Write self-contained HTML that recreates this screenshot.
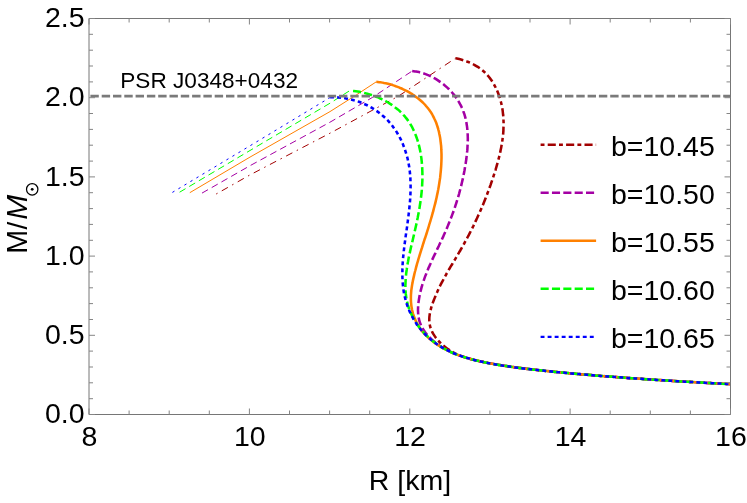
<!DOCTYPE html><html><head><meta charset="utf-8"><style>html,body{margin:0;padding:0;background:#fff}body{width:747px;height:503px;overflow:hidden}</style></head><body><svg width="747" height="503" viewBox="0 0 747 503" style="display:block;will-change:transform;font-family:'Liberation Sans',sans-serif">
<rect width="747" height="503" fill="#fff"/>
<path d="M216.2 194.0 L250.0 174.9 L330.0 133.2 L398.2 96.3 L455.4 58.3" fill="none" stroke="#a20000" stroke-width="1.0" stroke-dasharray="1.5 4.9 7 4.9"/>
<path d="M202.0 193.1 L250.0 165.7 L330.0 122.2 L372.3 97.5 L412.2 71.0" fill="none" stroke="#a400a4" stroke-width="1.0" stroke-dasharray="6.9 4.3"/>
<path d="M189.8 192.7 L250.0 157.1 L330.0 111.6 L356.2 95.0 L376.3 81.8" fill="none" stroke="#ff8000" stroke-width="1.0"/>
<path d="M179.6 192.2 L250.0 150.5 L330.0 103.2 L349.8 90.6" fill="none" stroke="#00ff00" stroke-width="1.0" stroke-dasharray="6.9 4.3"/>
<path d="M172.4 192.4 L250.0 145.8 L330.4 97.3" fill="none" stroke="#0000ff" stroke-width="1.0" stroke-dasharray="2.4 4.6"/>
<path d="M455.4 58.3 C456.1 58.4 458.0 58.8 459.3 59.1 C460.6 59.4 461.9 59.8 463.2 60.2 C464.5 60.6 465.8 61.0 467.0 61.5 C468.3 62.0 469.5 62.5 470.7 63.0 C472.0 63.6 473.2 64.2 474.3 64.8 C475.5 65.5 476.7 66.2 477.8 66.9 C478.9 67.6 480.0 68.4 481.0 69.2 C482.1 70.0 483.1 70.8 484.1 71.7 C485.1 72.6 486.0 73.6 486.9 74.5 C487.8 75.5 488.7 76.5 489.5 77.6 C490.3 78.6 491.1 79.7 491.8 80.8 C492.5 81.9 493.2 83.1 493.9 84.2 C494.6 85.4 495.2 86.6 495.8 87.8 C496.4 89.0 496.9 90.2 497.5 91.5 C498.0 92.7 498.5 94.0 498.9 95.3 C499.3 96.5 499.8 97.8 500.1 99.1 C500.5 100.4 500.9 101.7 501.2 103.0 C501.5 104.3 501.8 105.6 502.0 107.0 C502.3 108.3 502.5 109.6 502.7 110.9 C502.8 112.2 503.0 113.5 503.1 114.8 C503.3 116.1 503.4 117.5 503.4 118.8 C503.5 120.1 503.5 121.4 503.6 122.7 C503.6 124.0 503.6 125.4 503.5 126.7 C503.5 128.0 503.4 129.3 503.4 130.6 C503.3 131.9 503.2 133.3 503.1 134.6 C502.9 135.9 502.8 137.2 502.6 138.5 C502.5 139.8 502.3 141.1 502.1 142.5 C501.9 143.8 501.6 145.1 501.4 146.4 C501.2 147.7 500.9 149.0 500.6 150.3 C500.4 151.6 500.1 152.9 499.8 154.2 C499.5 155.5 499.2 156.8 498.8 158.1 C498.5 159.4 498.1 160.7 497.8 162.0 C497.4 163.3 497.1 164.6 496.7 165.9 C496.3 167.2 495.9 168.5 495.6 169.8 C495.2 171.1 494.8 172.4 494.3 173.6 C493.9 174.9 493.5 176.2 493.1 177.5 C492.7 178.7 492.3 180.0 491.8 181.3 C491.4 182.5 490.9 183.8 490.5 185.1 C490.1 186.3 489.6 187.6 489.1 188.8 C488.7 190.1 488.2 191.3 487.8 192.6 C487.3 193.8 486.8 195.1 486.3 196.3 C485.8 197.6 485.4 198.8 484.9 200.0 C484.4 201.3 483.9 202.5 483.4 203.7 C482.9 205.0 482.3 206.2 481.8 207.4 C481.3 208.6 480.8 209.9 480.2 211.1 C479.7 212.3 479.2 213.5 478.6 214.7 C478.1 215.9 477.5 217.1 477.0 218.3 C476.4 219.5 475.9 220.7 475.3 221.9 C474.7 223.1 474.1 224.3 473.6 225.5 C473.0 226.7 472.4 227.9 471.8 229.1 C471.2 230.3 470.6 231.5 470.0 232.6 C469.4 233.8 468.8 235.0 468.2 236.2 C467.5 237.4 466.9 238.5 466.3 239.7 C465.6 240.9 465.0 242.0 464.4 243.2 C463.7 244.4 463.1 245.5 462.4 246.7 C461.8 247.9 461.1 249.0 460.4 250.2 C459.7 251.3 459.1 252.5 458.4 253.6 C457.7 254.8 457.0 255.9 456.4 257.1 C455.7 258.2 455.0 259.4 454.3 260.5 C453.6 261.7 452.9 262.8 452.3 264.0 C451.6 265.1 450.9 266.3 450.2 267.4 C449.5 268.6 448.9 269.7 448.2 270.9 C447.5 272.1 446.9 273.2 446.2 274.4 C445.6 275.6 444.9 276.7 444.3 277.9 C443.6 279.1 443.0 280.3 442.4 281.4 C441.8 282.6 441.1 283.8 440.5 285.0 C439.9 286.2 439.3 287.4 438.8 288.6 C438.2 289.8 437.6 291.1 437.1 292.3 C436.5 293.5 436.0 294.7 435.5 296.0 C435.0 297.2 434.5 298.5 434.0 299.7 C433.5 301.0 433.0 302.2 432.6 303.5 C432.1 304.8 431.7 306.1 431.3 307.4 C431.0 308.7 430.6 310.0 430.3 311.3 C430.0 312.6 429.8 313.9 429.6 315.2 C429.4 316.5 429.3 317.8 429.3 319.0 C429.3 320.3 429.3 321.6 429.5 322.9 C429.6 324.1 429.9 325.4 430.2 326.6 C430.5 327.9 431.0 329.1 431.5 330.3 C432.0 331.5 432.6 332.7 433.3 333.9 C434.0 335.0 434.7 336.1 435.5 337.2 C436.3 338.3 437.2 339.4 438.1 340.4 C439.0 341.4 439.9 342.4 440.9 343.4 C441.9 344.3 442.9 345.2 443.9 346.1 C445.0 346.9 446.0 347.7 447.1 348.5 C448.2 349.3 449.3 350.0 450.4 350.7 C451.5 351.3 452.7 352.0 453.8 352.6 C455.0 353.2 456.2 353.8 457.4 354.3 C458.6 354.9 459.8 355.4 461.0 355.9 C462.2 356.3 463.5 356.8 464.7 357.2 C466.0 357.7 467.2 358.1 468.5 358.4 C469.8 358.8 471.1 359.2 472.3 359.5 C473.6 359.9 474.9 360.2 476.2 360.5 C477.5 360.8 478.8 361.1 480.2 361.4 C481.5 361.7 482.8 361.9 484.1 362.2 C485.4 362.5 486.7 362.7 488.0 363.0 C489.4 363.2 490.7 363.5 492.0 363.7 C493.3 363.9 494.6 364.2 495.9 364.4 C497.3 364.6 498.6 364.8 499.9 365.0 C501.2 365.3 502.5 365.5 503.8 365.7 C505.2 365.9 506.5 366.1 507.8 366.3 C509.1 366.5 510.4 366.6 511.8 366.8 C513.1 367.0 514.4 367.2 515.7 367.4 C517.0 367.6 518.3 367.7 519.7 367.9 C521.0 368.1 522.3 368.2 523.6 368.4 C524.9 368.6 526.3 368.7 527.6 368.9 C528.9 369.0 530.2 369.2 531.6 369.3 C532.9 369.5 534.2 369.7 535.5 369.8 C536.8 370.0 538.2 370.1 539.5 370.2 C540.8 370.4 542.1 370.5 543.5 370.7 C544.8 370.8 546.1 371.0 547.4 371.1 C548.8 371.2 550.1 371.4 551.4 371.5 C552.7 371.6 554.1 371.8 555.4 371.9 C556.7 372.0 558.0 372.2 559.4 372.3 C560.7 372.4 562.0 372.5 563.4 372.7 C564.7 372.8 566.0 372.9 567.3 373.0 C568.7 373.2 570.0 373.3 571.3 373.4 C572.7 373.5 574.0 373.6 575.3 373.8 C576.6 373.9 578.0 374.0 579.3 374.1 C580.6 374.2 582.0 374.3 583.3 374.5 C584.6 374.6 586.0 374.7 587.3 374.8 C588.6 374.9 589.9 375.0 591.3 375.1 C592.6 375.2 593.9 375.3 595.3 375.4 C596.6 375.5 597.9 375.7 599.3 375.8 C600.6 375.9 601.9 376.0 603.2 376.1 C604.6 376.2 605.9 376.3 607.2 376.4 C608.6 376.5 609.9 376.6 611.2 376.7 C612.6 376.8 613.9 376.9 615.2 377.0 C616.5 377.1 617.9 377.2 619.2 377.3 C620.5 377.4 621.9 377.5 623.2 377.6 C624.5 377.7 625.9 377.8 627.2 377.9 C628.5 378.0 629.8 378.1 631.2 378.2 C632.5 378.2 633.8 378.3 635.2 378.4 C636.5 378.5 637.8 378.6 639.2 378.7 C640.5 378.8 641.8 378.9 643.1 379.0 C644.5 379.1 645.8 379.2 647.1 379.3 C648.5 379.3 649.8 379.4 651.1 379.5 C652.5 379.6 653.8 379.7 655.1 379.8 C656.4 379.9 657.8 380.0 659.1 380.0 C660.4 380.1 661.8 380.2 663.1 380.3 C664.4 380.4 665.8 380.5 667.1 380.5 C668.4 380.6 669.7 380.7 671.1 380.8 C672.4 380.9 673.7 381.0 675.1 381.0 C676.4 381.1 677.7 381.2 679.1 381.3 C680.4 381.4 681.7 381.4 683.0 381.5 C684.4 381.6 685.7 381.7 687.0 381.8 C688.4 381.8 689.7 381.9 691.0 382.0 C692.4 382.1 693.7 382.1 695.0 382.2 C696.4 382.3 697.7 382.4 699.0 382.4 C700.3 382.5 701.7 382.6 703.0 382.7 C704.3 382.7 705.7 382.8 707.0 382.9 C708.3 382.9 709.7 383.0 711.0 383.1 C712.3 383.2 713.7 383.2 715.0 383.3 C716.3 383.4 717.7 383.4 719.0 383.5 C720.3 383.6 721.7 383.7 723.0 383.7 C724.3 383.8 725.8 383.9 727.0 383.9 C728.2 384.0 729.7 384.1 730.2 384.1" fill="none" stroke="#a20000" stroke-width="2.55" stroke-dasharray="3.9 3.2 8.1 3.2" stroke-dashoffset="7.1"/>
<path d="M412.2 71.0 C412.8 71.1 414.8 71.3 416.1 71.5 C417.4 71.8 418.7 72.0 420.0 72.4 C421.2 72.7 422.5 73.1 423.8 73.5 C425.0 73.9 426.3 74.4 427.5 74.9 C428.8 75.4 430.0 75.9 431.2 76.5 C432.4 77.1 433.6 77.8 434.8 78.4 C436.0 79.1 437.1 79.8 438.3 80.6 C439.4 81.3 440.5 82.1 441.6 82.9 C442.7 83.7 443.8 84.6 444.8 85.4 C445.9 86.3 446.9 87.2 447.9 88.2 C448.9 89.1 449.8 90.1 450.7 91.1 C451.7 92.1 452.6 93.1 453.4 94.1 C454.3 95.2 455.1 96.2 455.9 97.3 C456.7 98.4 457.4 99.5 458.1 100.6 C458.8 101.8 459.5 102.9 460.1 104.1 C460.7 105.2 461.3 106.4 461.8 107.6 C462.4 108.8 462.9 110.0 463.3 111.2 C463.8 112.4 464.2 113.7 464.6 114.9 C464.9 116.1 465.3 117.4 465.6 118.7 C465.9 119.9 466.1 121.2 466.4 122.5 C466.6 123.8 466.8 125.1 467.0 126.4 C467.2 127.7 467.3 129.0 467.4 130.3 C467.5 131.6 467.6 133.0 467.7 134.3 C467.7 135.6 467.8 136.9 467.8 138.3 C467.8 139.6 467.8 141.0 467.7 142.3 C467.7 143.7 467.6 145.0 467.5 146.4 C467.5 147.7 467.4 149.1 467.3 150.4 C467.1 151.8 467.0 153.1 466.8 154.5 C466.7 155.8 466.5 157.1 466.4 158.5 C466.2 159.8 466.0 161.2 465.8 162.5 C465.6 163.9 465.4 165.2 465.1 166.5 C464.9 167.8 464.7 169.2 464.5 170.5 C464.2 171.8 464.0 173.1 463.7 174.4 C463.4 175.7 463.2 177.1 462.9 178.4 C462.6 179.7 462.3 181.0 462.0 182.2 C461.7 183.5 461.4 184.8 461.1 186.1 C460.8 187.4 460.4 188.7 460.1 190.0 C459.8 191.3 459.4 192.5 459.1 193.8 C458.7 195.1 458.3 196.3 458.0 197.6 C457.6 198.9 457.2 200.1 456.8 201.4 C456.4 202.7 456.0 203.9 455.6 205.2 C455.2 206.4 454.8 207.7 454.3 208.9 C453.9 210.2 453.5 211.4 453.0 212.7 C452.6 213.9 452.1 215.2 451.6 216.4 C451.2 217.6 450.7 218.9 450.2 220.1 C449.7 221.3 449.2 222.6 448.7 223.8 C448.2 225.0 447.7 226.3 447.2 227.5 C446.7 228.7 446.2 229.9 445.6 231.2 C445.1 232.4 444.6 233.6 444.0 234.8 C443.4 236.1 442.9 237.3 442.3 238.5 C441.8 239.7 441.2 240.9 440.6 242.1 C440.0 243.4 439.4 244.6 438.9 245.8 C438.3 247.0 437.7 248.2 437.1 249.4 C436.5 250.7 435.9 251.9 435.4 253.1 C434.8 254.3 434.2 255.5 433.6 256.8 C433.1 258.0 432.5 259.2 431.9 260.4 C431.4 261.7 430.8 262.9 430.3 264.1 C429.7 265.4 429.2 266.6 428.6 267.8 C428.1 269.1 427.6 270.3 427.1 271.5 C426.6 272.8 426.1 274.0 425.6 275.3 C425.1 276.5 424.7 277.8 424.2 279.1 C423.8 280.3 423.4 281.6 422.9 282.9 C422.5 284.1 422.1 285.4 421.8 286.7 C421.4 288.0 421.1 289.3 420.7 290.6 C420.4 291.9 420.1 293.2 419.8 294.5 C419.6 295.8 419.3 297.1 419.1 298.4 C418.9 299.8 418.7 301.1 418.5 302.4 C418.4 303.8 418.2 305.1 418.1 306.4 C418.1 307.8 418.0 309.1 418.0 310.4 C418.1 311.7 418.1 313.0 418.2 314.3 C418.4 315.6 418.5 316.9 418.8 318.2 C419.0 319.5 419.3 320.7 419.7 321.9 C420.1 323.2 420.6 324.4 421.1 325.5 C421.6 326.7 422.2 327.9 422.9 329.0 C423.6 330.1 424.3 331.2 425.1 332.2 C425.9 333.3 426.7 334.3 427.6 335.3 C428.5 336.3 429.4 337.3 430.4 338.2 C431.4 339.2 432.4 340.1 433.4 340.9 C434.4 341.8 435.4 342.6 436.5 343.4 C437.6 344.2 438.6 345.0 439.7 345.8 C440.8 346.5 441.9 347.2 443.1 347.9 C444.2 348.6 445.4 349.2 446.5 349.8 C447.7 350.4 448.9 351.0 450.0 351.6 C451.2 352.2 452.4 352.7 453.6 353.2 C454.9 353.8 456.1 354.3 457.3 354.7 C458.6 355.2 459.8 355.7 461.1 356.1 C462.3 356.5 463.6 356.9 464.9 357.3 C466.1 357.7 467.4 358.1 468.7 358.5 C470.0 358.9 471.3 359.2 472.6 359.5 C473.9 359.9 475.2 360.2 476.5 360.5 C477.8 360.8 479.1 361.1 480.4 361.4 C481.7 361.7 483.1 361.9 484.4 362.2 C485.7 362.5 487.0 362.7 488.3 363.0 C489.6 363.3 490.9 363.5 492.3 363.7 C493.6 364.0 494.9 364.2 496.2 364.4 C497.5 364.7 498.8 364.9 500.2 365.1 C501.5 365.3 502.8 365.5 504.1 365.7 C505.4 365.9 506.7 366.1 508.0 366.3 C509.4 366.5 510.7 366.7 512.0 366.9 C513.3 367.1 514.6 367.3 515.9 367.4 C517.3 367.6 518.6 367.8 519.9 367.9 C521.2 368.1 522.5 368.3 523.9 368.4 C525.2 368.6 526.5 368.8 527.8 368.9 C529.1 369.1 530.5 369.2 531.8 369.4 C533.1 369.5 534.4 369.7 535.7 369.8 C537.1 370.0 538.4 370.1 539.7 370.3 C541.0 370.4 542.4 370.6 543.7 370.7 C545.0 370.8 546.3 371.0 547.7 371.1 C549.0 371.2 550.3 371.4 551.6 371.5 C553.0 371.7 554.3 371.8 555.6 371.9 C556.9 372.0 558.3 372.2 559.6 372.3 C560.9 372.4 562.3 372.6 563.6 372.7 C564.9 372.8 566.2 372.9 567.6 373.1 C568.9 373.2 570.2 373.3 571.6 373.4 C572.9 373.5 574.2 373.7 575.5 373.8 C576.9 373.9 578.2 374.0 579.5 374.1 C580.9 374.2 582.2 374.4 583.5 374.5 C584.9 374.6 586.2 374.7 587.5 374.8 C588.9 374.9 590.2 375.0 591.5 375.1 C592.8 375.2 594.2 375.4 595.5 375.5 C596.8 375.6 598.2 375.7 599.5 375.8 C600.8 375.9 602.2 376.0 603.5 376.1 C604.8 376.2 606.1 376.3 607.5 376.4 C608.8 376.5 610.1 376.6 611.5 376.7 C612.8 376.8 614.1 376.9 615.5 377.0 C616.8 377.1 618.1 377.2 619.4 377.3 C620.8 377.4 622.1 377.5 623.4 377.6 C624.8 377.7 626.1 377.8 627.4 377.9 C628.8 378.0 630.1 378.1 631.4 378.2 C632.7 378.3 634.1 378.4 635.4 378.5 C636.7 378.5 638.1 378.6 639.4 378.7 C640.7 378.8 642.1 378.9 643.4 379.0 C644.7 379.1 646.0 379.2 647.4 379.3 C648.7 379.4 650.0 379.5 651.4 379.5 C652.7 379.6 654.0 379.7 655.3 379.8 C656.7 379.9 658.0 380.0 659.3 380.1 C660.7 380.1 662.0 380.2 663.3 380.3 C664.7 380.4 666.0 380.5 667.3 380.6 C668.6 380.6 670.0 380.7 671.3 380.8 C672.6 380.9 674.0 381.0 675.3 381.1 C676.6 381.1 678.0 381.2 679.3 381.3 C680.6 381.4 681.9 381.4 683.3 381.5 C684.6 381.6 685.9 381.7 687.3 381.8 C688.6 381.8 689.9 381.9 691.3 382.0 C692.6 382.1 693.9 382.1 695.3 382.2 C696.6 382.3 697.9 382.4 699.2 382.4 C700.6 382.5 701.9 382.6 703.2 382.7 C704.6 382.7 705.9 382.8 707.2 382.9 C708.6 383.0 709.9 383.0 711.2 383.1 C712.6 383.2 713.9 383.2 715.2 383.3 C716.6 383.4 717.9 383.5 719.2 383.5 C720.6 383.6 721.9 383.7 723.2 383.7 C724.6 383.8 726.1 383.9 727.2 383.9 C728.4 384.0 729.7 384.1 730.2 384.1" fill="none" stroke="#a400a4" stroke-width="2.55" stroke-dasharray="8.1 3.25" stroke-dashoffset="0"/>
<path d="M376.3 81.8 C376.9 81.9 378.9 82.1 380.2 82.3 C381.5 82.5 382.8 82.7 384.1 83.0 C385.4 83.2 386.7 83.5 388.0 83.8 C389.3 84.2 390.6 84.5 391.9 84.9 C393.2 85.3 394.5 85.7 395.8 86.2 C397.1 86.6 398.3 87.1 399.6 87.7 C400.9 88.2 402.1 88.7 403.3 89.3 C404.6 89.9 405.8 90.5 407.0 91.1 C408.2 91.8 409.4 92.4 410.5 93.1 C411.7 93.8 412.8 94.6 413.9 95.3 C415.1 96.1 416.1 96.9 417.2 97.7 C418.3 98.5 419.3 99.3 420.3 100.2 C421.3 101.1 422.3 102.0 423.2 102.9 C424.2 103.8 425.1 104.8 425.9 105.8 C426.8 106.7 427.6 107.7 428.4 108.8 C429.2 109.8 430.0 110.9 430.7 111.9 C431.4 113.0 432.1 114.1 432.7 115.3 C433.3 116.4 433.9 117.6 434.4 118.7 C435.0 119.9 435.5 121.1 436.0 122.3 C436.5 123.5 436.9 124.8 437.3 126.0 C437.7 127.2 438.1 128.5 438.4 129.8 C438.8 131.1 439.1 132.4 439.3 133.7 C439.6 135.0 439.9 136.3 440.1 137.6 C440.3 138.9 440.5 140.3 440.6 141.6 C440.8 142.9 440.9 144.3 441.1 145.6 C441.2 147.0 441.3 148.3 441.3 149.7 C441.4 151.0 441.4 152.4 441.5 153.8 C441.5 155.1 441.5 156.5 441.5 157.8 C441.5 159.2 441.4 160.5 441.4 161.9 C441.3 163.2 441.3 164.6 441.2 165.9 C441.1 167.3 441.0 168.6 440.9 169.9 C440.8 171.3 440.7 172.6 440.5 173.9 C440.4 175.2 440.2 176.6 440.1 177.9 C439.9 179.2 439.7 180.5 439.5 181.8 C439.3 183.2 439.1 184.5 438.9 185.8 C438.7 187.1 438.4 188.4 438.2 189.7 C437.9 191.0 437.7 192.3 437.4 193.6 C437.1 194.9 436.9 196.2 436.6 197.5 C436.3 198.8 436.0 200.1 435.7 201.4 C435.4 202.7 435.1 204.0 434.7 205.3 C434.4 206.5 434.1 207.8 433.7 209.1 C433.4 210.4 433.1 211.7 432.7 213.0 C432.3 214.2 432.0 215.5 431.6 216.8 C431.2 218.1 430.9 219.4 430.5 220.6 C430.1 221.9 429.7 223.2 429.3 224.5 C429.0 225.7 428.6 227.0 428.2 228.3 C427.8 229.6 427.4 230.8 427.0 232.1 C426.6 233.4 426.2 234.6 425.8 235.9 C425.4 237.2 424.9 238.5 424.5 239.7 C424.1 241.0 423.7 242.3 423.3 243.5 C422.9 244.8 422.5 246.1 422.1 247.4 C421.7 248.6 421.3 249.9 420.9 251.2 C420.5 252.5 420.1 253.8 419.7 255.0 C419.3 256.3 418.9 257.6 418.5 258.9 C418.1 260.2 417.8 261.5 417.4 262.7 C417.0 264.0 416.7 265.3 416.3 266.6 C416.0 267.9 415.6 269.2 415.3 270.5 C414.9 271.8 414.6 273.1 414.3 274.4 C414.0 275.8 413.7 277.1 413.4 278.4 C413.1 279.7 412.8 281.0 412.6 282.4 C412.3 283.7 412.1 285.0 411.9 286.3 C411.7 287.7 411.5 289.0 411.3 290.3 C411.2 291.6 411.1 293.0 411.0 294.3 C410.9 295.6 410.9 296.9 410.9 298.3 C410.9 299.6 410.9 300.9 411.0 302.2 C411.1 303.5 411.3 304.8 411.4 306.1 C411.6 307.4 411.9 308.7 412.1 310.0 C412.4 311.3 412.7 312.5 413.1 313.8 C413.5 315.0 413.9 316.3 414.4 317.5 C414.8 318.7 415.3 319.9 415.9 321.1 C416.4 322.3 417.0 323.4 417.7 324.6 C418.3 325.7 419.0 326.8 419.7 327.9 C420.5 329.0 421.2 330.0 422.1 331.1 C422.9 332.1 423.8 333.1 424.7 334.1 C425.6 335.1 426.5 336.0 427.5 336.9 C428.5 337.8 429.5 338.7 430.5 339.6 C431.5 340.5 432.6 341.3 433.7 342.1 C434.8 342.9 435.9 343.7 437.0 344.4 C438.1 345.2 439.3 345.9 440.4 346.6 C441.6 347.3 442.7 348.0 443.9 348.6 C445.1 349.2 446.3 349.8 447.5 350.4 C448.7 351.0 449.9 351.6 451.1 352.1 C452.3 352.7 453.5 353.2 454.8 353.7 C456.0 354.2 457.2 354.7 458.5 355.1 C459.7 355.6 461.0 356.0 462.3 356.5 C463.5 356.9 464.8 357.3 466.1 357.7 C467.3 358.1 468.6 358.4 469.9 358.8 C471.2 359.1 472.5 359.5 473.8 359.8 C475.1 360.1 476.4 360.5 477.7 360.8 C479.0 361.1 480.3 361.4 481.6 361.6 C482.9 361.9 484.2 362.2 485.5 362.5 C486.8 362.7 488.1 363.0 489.4 363.2 C490.8 363.5 492.1 363.7 493.4 364.0 C494.7 364.2 496.0 364.4 497.3 364.7 C498.6 364.9 500.0 365.1 501.3 365.3 C502.6 365.5 503.9 365.7 505.2 365.9 C506.5 366.1 507.9 366.3 509.2 366.5 C510.5 366.7 511.8 366.9 513.1 367.1 C514.4 367.2 515.8 367.4 517.1 367.6 C518.4 367.8 519.7 367.9 521.1 368.1 C522.4 368.3 523.7 368.4 525.0 368.6 C526.3 368.7 527.7 368.9 529.0 369.1 C530.3 369.2 531.6 369.4 533.0 369.5 C534.3 369.7 535.6 369.8 536.9 370.0 C538.3 370.1 539.6 370.2 540.9 370.4 C542.2 370.5 543.6 370.7 544.9 370.8 C546.2 370.9 547.5 371.1 548.9 371.2 C550.2 371.4 551.5 371.5 552.8 371.6 C554.2 371.8 555.5 371.9 556.8 372.0 C558.2 372.1 559.5 372.3 560.8 372.4 C562.1 372.5 563.5 372.7 564.8 372.8 C566.1 372.9 567.4 373.0 568.8 373.2 C570.1 373.3 571.4 373.4 572.8 373.5 C574.1 373.6 575.4 373.8 576.7 373.9 C578.1 374.0 579.4 374.1 580.7 374.2 C582.1 374.3 583.4 374.5 584.7 374.6 C586.0 374.7 587.4 374.8 588.7 374.9 C590.0 375.0 591.4 375.1 592.7 375.2 C594.0 375.3 595.4 375.4 596.7 375.6 C598.0 375.7 599.3 375.8 600.7 375.9 C602.0 376.0 603.3 376.1 604.7 376.2 C606.0 376.3 607.3 376.4 608.6 376.5 C610.0 376.6 611.3 376.7 612.6 376.8 C614.0 376.9 615.3 377.0 616.6 377.1 C618.0 377.2 619.3 377.3 620.6 377.4 C621.9 377.5 623.3 377.6 624.6 377.7 C625.9 377.8 627.3 377.9 628.6 378.0 C629.9 378.1 631.3 378.2 632.6 378.3 C633.9 378.4 635.2 378.5 636.6 378.5 C637.9 378.6 639.2 378.7 640.6 378.8 C641.9 378.9 643.2 379.0 644.6 379.1 C645.9 379.2 647.2 379.3 648.5 379.4 C649.9 379.4 651.2 379.5 652.5 379.6 C653.9 379.7 655.2 379.8 656.5 379.9 C657.9 380.0 659.2 380.0 660.5 380.1 C661.8 380.2 663.2 380.3 664.5 380.4 C665.8 380.5 667.2 380.6 668.5 380.6 C669.8 380.7 671.2 380.8 672.5 380.9 C673.8 381.0 675.2 381.0 676.5 381.1 C677.8 381.2 679.1 381.3 680.5 381.4 C681.8 381.4 683.1 381.5 684.5 381.6 C685.8 381.7 687.1 381.7 688.5 381.8 C689.8 381.9 691.1 382.0 692.5 382.1 C693.8 382.1 695.1 382.2 696.4 382.3 C697.8 382.4 699.1 382.4 700.4 382.5 C701.8 382.6 703.1 382.7 704.4 382.7 C705.8 382.8 707.1 382.9 708.4 382.9 C709.8 383.0 711.1 383.1 712.4 383.2 C713.8 383.2 715.1 383.3 716.4 383.4 C717.8 383.4 719.1 383.5 720.4 383.6 C721.7 383.7 723.1 383.7 724.4 383.8 C725.7 383.9 727.4 383.9 728.4 384.0 C729.4 384.0 729.9 384.1 730.2 384.1" fill="none" stroke="#ff8000" stroke-width="2.55"/>
<path d="M349.8 90.6 C350.5 90.7 352.4 90.8 353.8 91.0 C355.1 91.2 356.4 91.4 357.7 91.6 C359.1 91.8 360.4 92.0 361.7 92.3 C363.0 92.6 364.3 92.9 365.7 93.3 C367.0 93.6 368.3 94.0 369.6 94.4 C370.9 94.8 372.1 95.2 373.4 95.6 C374.7 96.1 376.0 96.6 377.2 97.1 C378.5 97.6 379.7 98.2 380.9 98.7 C382.1 99.3 383.4 99.9 384.5 100.5 C385.7 101.2 386.9 101.8 388.1 102.5 C389.2 103.2 390.3 103.9 391.4 104.6 C392.5 105.4 393.6 106.2 394.7 107.0 C395.7 107.8 396.8 108.6 397.8 109.4 C398.8 110.3 399.8 111.2 400.7 112.1 C401.6 113.0 402.6 113.9 403.4 114.9 C404.3 115.8 405.2 116.8 406.0 117.9 C406.8 118.9 407.6 119.9 408.3 121.0 C409.1 122.1 409.8 123.2 410.4 124.3 C411.1 125.4 411.8 126.6 412.4 127.7 C413.0 128.9 413.5 130.1 414.1 131.3 C414.6 132.5 415.1 133.7 415.6 134.9 C416.1 136.2 416.6 137.4 417.0 138.7 C417.4 139.9 417.8 141.2 418.2 142.5 C418.5 143.8 418.9 145.1 419.2 146.4 C419.5 147.7 419.8 149.0 420.1 150.4 C420.3 151.7 420.6 153.0 420.8 154.3 C421.0 155.7 421.2 157.0 421.4 158.3 C421.5 159.7 421.7 161.0 421.8 162.3 C421.9 163.6 422.0 165.0 422.1 166.3 C422.2 167.6 422.3 169.0 422.3 170.3 C422.4 171.6 422.4 172.9 422.4 174.3 C422.4 175.6 422.4 176.9 422.4 178.2 C422.4 179.6 422.4 180.9 422.3 182.2 C422.2 183.5 422.2 184.9 422.1 186.2 C422.0 187.5 421.9 188.8 421.8 190.2 C421.7 191.5 421.6 192.8 421.4 194.1 C421.3 195.4 421.1 196.8 420.9 198.1 C420.8 199.4 420.6 200.7 420.4 202.0 C420.2 203.4 420.0 204.7 419.8 206.0 C419.6 207.3 419.4 208.6 419.2 209.9 C418.9 211.3 418.7 212.6 418.4 213.9 C418.2 215.2 417.9 216.5 417.7 217.8 C417.4 219.1 417.1 220.5 416.9 221.8 C416.6 223.1 416.3 224.4 416.0 225.7 C415.7 227.0 415.4 228.3 415.1 229.7 C414.8 231.0 414.5 232.3 414.2 233.6 C413.9 234.9 413.6 236.2 413.3 237.5 C413.0 238.8 412.7 240.2 412.4 241.5 C412.1 242.8 411.8 244.1 411.5 245.4 C411.1 246.7 410.8 248.0 410.5 249.4 C410.2 250.7 410.0 252.0 409.7 253.3 C409.4 254.6 409.1 255.9 408.8 257.3 C408.6 258.6 408.3 259.9 408.1 261.2 C407.8 262.5 407.6 263.9 407.4 265.2 C407.2 266.5 406.9 267.8 406.8 269.2 C406.6 270.5 406.4 271.8 406.2 273.2 C406.1 274.5 406.0 275.8 405.8 277.2 C405.7 278.5 405.6 279.8 405.6 281.2 C405.5 282.5 405.5 283.9 405.4 285.2 C405.4 286.5 405.4 287.9 405.5 289.2 C405.5 290.5 405.6 291.8 405.7 293.2 C405.9 294.5 406.0 295.8 406.2 297.1 C406.4 298.4 406.6 299.7 406.9 301.0 C407.2 302.3 407.5 303.5 407.8 304.8 C408.2 306.1 408.6 307.3 409.0 308.5 C409.5 309.8 410.0 311.0 410.5 312.2 C411.0 313.4 411.5 314.6 412.1 315.8 C412.7 317.0 413.3 318.1 414.0 319.3 C414.6 320.4 415.3 321.5 416.1 322.6 C416.8 323.8 417.5 324.8 418.3 325.9 C419.1 327.0 419.9 328.0 420.7 329.1 C421.6 330.1 422.4 331.1 423.3 332.1 C424.2 333.1 425.1 334.1 426.1 335.0 C427.0 335.9 428.0 336.9 429.0 337.8 C430.0 338.7 431.0 339.5 432.0 340.4 C433.0 341.2 434.1 342.0 435.2 342.8 C436.2 343.6 437.3 344.4 438.4 345.1 C439.5 345.9 440.6 346.6 441.8 347.3 C442.9 347.9 444.1 348.6 445.2 349.2 C446.4 349.9 447.6 350.5 448.8 351.0 C449.9 351.6 451.1 352.2 452.4 352.7 C453.6 353.2 454.8 353.7 456.0 354.2 C457.3 354.7 458.5 355.2 459.8 355.6 C461.0 356.1 462.3 356.5 463.5 356.9 C464.8 357.3 466.1 357.7 467.4 358.1 C468.6 358.5 469.9 358.8 471.2 359.2 C472.5 359.5 473.8 359.8 475.1 360.2 C476.4 360.5 477.7 360.8 479.0 361.1 C480.3 361.4 481.7 361.7 483.0 361.9 C484.3 362.2 485.6 362.5 486.9 362.7 C488.2 363.0 489.5 363.2 490.9 363.5 C492.2 363.7 493.5 364.0 494.8 364.2 C496.1 364.4 497.4 364.7 498.7 364.9 C500.1 365.1 501.4 365.3 502.7 365.5 C504.0 365.7 505.3 365.9 506.6 366.1 C508.0 366.3 509.3 366.5 510.6 366.7 C511.9 366.9 513.2 367.1 514.5 367.2 C515.9 367.4 517.2 367.6 518.5 367.8 C519.8 367.9 521.1 368.1 522.5 368.3 C523.8 368.4 525.1 368.6 526.4 368.7 C527.7 368.9 529.1 369.1 530.4 369.2 C531.7 369.4 533.0 369.5 534.3 369.7 C535.7 369.8 537.0 370.0 538.3 370.1 C539.6 370.2 541.0 370.4 542.3 370.5 C543.6 370.7 544.9 370.8 546.3 371.0 C547.6 371.1 548.9 371.2 550.2 371.4 C551.6 371.5 552.9 371.6 554.2 371.8 C555.6 371.9 556.9 372.0 558.2 372.2 C559.5 372.3 560.9 372.4 562.2 372.5 C563.5 372.7 564.8 372.8 566.2 372.9 C567.5 373.0 568.8 373.2 570.2 373.3 C571.5 373.4 572.8 373.5 574.1 373.6 C575.5 373.8 576.8 373.9 578.1 374.0 C579.5 374.1 580.8 374.2 582.1 374.3 C583.5 374.5 584.8 374.6 586.1 374.7 C587.4 374.8 588.8 374.9 590.1 375.0 C591.4 375.1 592.8 375.2 594.1 375.3 C595.4 375.5 596.8 375.6 598.1 375.7 C599.4 375.8 600.7 375.9 602.1 376.0 C603.4 376.1 604.7 376.2 606.1 376.3 C607.4 376.4 608.7 376.5 610.1 376.6 C611.4 376.7 612.7 376.8 614.0 376.9 C615.4 377.0 616.7 377.1 618.0 377.2 C619.4 377.3 620.7 377.4 622.0 377.5 C623.4 377.6 624.7 377.7 626.0 377.8 C627.3 377.9 628.7 378.0 630.0 378.1 C631.3 378.2 632.7 378.3 634.0 378.4 C635.3 378.5 636.6 378.5 638.0 378.6 C639.3 378.7 640.6 378.8 642.0 378.9 C643.3 379.0 644.6 379.1 646.0 379.2 C647.3 379.3 648.6 379.4 649.9 379.4 C651.3 379.5 652.6 379.6 653.9 379.7 C655.3 379.8 656.6 379.9 657.9 380.0 C659.3 380.1 660.6 380.1 661.9 380.2 C663.2 380.3 664.6 380.4 665.9 380.5 C667.2 380.6 668.6 380.6 669.9 380.7 C671.2 380.8 672.6 380.9 673.9 381.0 C675.2 381.0 676.5 381.1 677.9 381.2 C679.2 381.3 680.5 381.4 681.9 381.4 C683.2 381.5 684.5 381.6 685.9 381.7 C687.2 381.8 688.5 381.8 689.9 381.9 C691.2 382.0 692.5 382.1 693.8 382.1 C695.2 382.2 696.5 382.3 697.8 382.4 C699.2 382.4 700.5 382.5 701.8 382.6 C703.2 382.7 704.5 382.7 705.8 382.8 C707.2 382.9 708.5 382.9 709.8 383.0 C711.2 383.1 712.5 383.2 713.8 383.2 C715.2 383.3 716.5 383.4 717.8 383.4 C719.1 383.5 720.5 383.6 721.8 383.7 C723.1 383.7 724.5 383.8 725.8 383.9 C727.1 383.9 729.1 384.0 729.8 384.1 C730.5 384.1 730.1 384.1 730.2 384.1" fill="none" stroke="#00ff00" stroke-width="2.55" stroke-dasharray="8.1 3.25" stroke-dashoffset="8.1"/>
<path d="M330.1 97.2 C330.8 97.2 332.8 97.1 334.1 97.2 C335.5 97.2 336.8 97.3 338.2 97.4 C339.5 97.4 340.9 97.6 342.2 97.8 C343.5 97.9 344.9 98.1 346.2 98.4 C347.5 98.6 348.8 98.9 350.1 99.2 C351.4 99.5 352.8 99.8 354.0 100.2 C355.3 100.6 356.6 101.0 357.9 101.4 C359.2 101.9 360.4 102.3 361.7 102.9 C362.9 103.4 364.1 103.9 365.4 104.5 C366.6 105.0 367.8 105.6 369.0 106.3 C370.1 106.9 371.3 107.5 372.4 108.2 C373.6 108.9 374.7 109.6 375.8 110.4 C376.9 111.1 378.0 111.9 379.1 112.7 C380.1 113.5 381.2 114.3 382.2 115.2 C383.2 116.0 384.2 116.9 385.1 117.8 C386.1 118.7 387.0 119.7 387.9 120.6 C388.8 121.6 389.7 122.6 390.6 123.6 C391.4 124.6 392.2 125.6 393.0 126.7 C393.8 127.8 394.6 128.8 395.3 129.9 C396.0 131.0 396.7 132.1 397.4 133.3 C398.1 134.4 398.7 135.6 399.4 136.7 C400.0 137.9 400.6 139.1 401.2 140.3 C401.7 141.5 402.3 142.7 402.8 143.9 C403.3 145.2 403.8 146.4 404.2 147.6 C404.7 148.9 405.1 150.1 405.5 151.4 C405.9 152.7 406.3 153.9 406.7 155.2 C407.0 156.5 407.4 157.8 407.7 159.1 C408.0 160.4 408.2 161.7 408.5 163.0 C408.7 164.3 409.0 165.5 409.2 166.9 C409.4 168.2 409.5 169.5 409.7 170.8 C409.9 172.1 410.0 173.4 410.1 174.7 C410.2 176.0 410.3 177.3 410.4 178.6 C410.4 179.9 410.5 181.2 410.5 182.6 C410.6 183.9 410.6 185.2 410.6 186.5 C410.6 187.8 410.6 189.2 410.5 190.5 C410.5 191.8 410.5 193.1 410.4 194.5 C410.3 195.8 410.3 197.1 410.2 198.5 C410.1 199.8 410.0 201.1 409.9 202.5 C409.8 203.8 409.6 205.1 409.5 206.5 C409.4 207.8 409.2 209.2 409.1 210.5 C409.0 211.8 408.8 213.2 408.6 214.5 C408.5 215.9 408.3 217.2 408.1 218.5 C408.0 219.9 407.8 221.2 407.6 222.6 C407.4 223.9 407.2 225.3 407.1 226.6 C406.9 228.0 406.7 229.3 406.5 230.7 C406.3 232.0 406.1 233.4 405.9 234.7 C405.7 236.1 405.5 237.4 405.4 238.8 C405.2 240.1 405.0 241.5 404.8 242.8 C404.6 244.2 404.5 245.5 404.3 246.9 C404.1 248.2 404.0 249.6 403.8 250.9 C403.7 252.3 403.5 253.6 403.4 255.0 C403.2 256.3 403.1 257.6 403.0 259.0 C402.9 260.3 402.8 261.7 402.7 263.0 C402.6 264.3 402.5 265.7 402.5 267.0 C402.4 268.4 402.4 269.7 402.4 271.0 C402.4 272.3 402.3 273.7 402.4 275.0 C402.4 276.3 402.4 277.6 402.5 278.9 C402.5 280.3 402.6 281.6 402.7 282.9 C402.8 284.2 402.9 285.5 403.1 286.8 C403.2 288.1 403.4 289.4 403.6 290.7 C403.8 292.0 404.0 293.3 404.3 294.5 C404.6 295.8 404.8 297.1 405.2 298.4 C405.5 299.6 405.8 300.9 406.2 302.2 C406.6 303.4 407.0 304.7 407.4 305.9 C407.9 307.2 408.4 308.4 408.9 309.6 C409.4 310.9 409.9 312.1 410.5 313.3 C411.0 314.5 411.6 315.7 412.3 316.8 C412.9 318.0 413.5 319.2 414.2 320.3 C414.9 321.4 415.6 322.6 416.4 323.7 C417.1 324.8 417.9 325.9 418.7 326.9 C419.5 328.0 420.3 329.0 421.2 330.0 C422.1 331.1 422.9 332.1 423.9 333.0 C424.8 334.0 425.7 334.9 426.7 335.9 C427.6 336.8 428.6 337.7 429.6 338.6 C430.6 339.4 431.7 340.3 432.7 341.1 C433.8 341.9 434.8 342.7 435.9 343.5 C437.0 344.2 438.1 345.0 439.2 345.7 C440.4 346.4 441.5 347.1 442.6 347.8 C443.8 348.4 445.0 349.1 446.1 349.7 C447.3 350.3 448.5 350.9 449.7 351.4 C450.9 352.0 452.1 352.5 453.3 353.0 C454.5 353.6 455.8 354.1 457.0 354.5 C458.2 355.0 459.5 355.5 460.7 355.9 C462.0 356.4 463.3 356.8 464.5 357.2 C465.8 357.6 467.1 358.0 468.4 358.3 C469.7 358.7 470.9 359.1 472.2 359.4 C473.5 359.7 474.8 360.1 476.1 360.4 C477.4 360.7 478.7 361.0 480.1 361.3 C481.4 361.6 482.7 361.9 484.0 362.2 C485.3 362.4 486.6 362.7 487.9 363.0 C489.2 363.2 490.5 363.5 491.9 363.7 C493.2 364.0 494.5 364.2 495.8 364.4 C497.1 364.6 498.4 364.9 499.7 365.1 C501.1 365.3 502.4 365.5 503.7 365.7 C505.0 365.9 506.3 366.1 507.6 366.3 C509.0 366.5 510.3 366.7 511.6 366.9 C512.9 367.0 514.2 367.2 515.6 367.4 C516.9 367.6 518.2 367.7 519.5 367.9 C520.8 368.1 522.2 368.2 523.5 368.4 C524.8 368.6 526.1 368.7 527.4 368.9 C528.8 369.0 530.1 369.2 531.4 369.3 C532.7 369.5 534.1 369.6 535.4 369.8 C536.7 369.9 538.0 370.1 539.3 370.2 C540.7 370.3 542.0 370.5 543.3 370.6 C544.6 370.8 546.0 370.9 547.3 371.0 C548.6 371.2 550.0 371.3 551.3 371.4 C552.6 371.6 553.9 371.7 555.3 371.8 C556.6 372.0 557.9 372.1 559.2 372.2 C560.6 372.4 561.9 372.5 563.2 372.6 C564.5 372.7 565.9 372.9 567.2 373.0 C568.5 373.1 569.9 373.2 571.2 373.4 C572.5 373.5 573.8 373.6 575.2 373.7 C576.5 373.8 577.8 374.0 579.2 374.1 C580.5 374.2 581.8 374.3 583.2 374.4 C584.5 374.5 585.8 374.7 587.1 374.8 C588.5 374.9 589.8 375.0 591.1 375.1 C592.5 375.2 593.8 375.3 595.1 375.4 C596.4 375.5 597.8 375.6 599.1 375.8 C600.4 375.9 601.8 376.0 603.1 376.1 C604.4 376.2 605.8 376.3 607.1 376.4 C608.4 376.5 609.7 376.6 611.1 376.7 C612.4 376.8 613.7 376.9 615.1 377.0 C616.4 377.1 617.7 377.2 619.1 377.3 C620.4 377.4 621.7 377.5 623.0 377.6 C624.4 377.7 625.7 377.8 627.0 377.9 C628.4 378.0 629.7 378.1 631.0 378.2 C632.4 378.3 633.7 378.3 635.0 378.4 C636.3 378.5 637.7 378.6 639.0 378.7 C640.3 378.8 641.7 378.9 643.0 379.0 C644.3 379.1 645.7 379.2 647.0 379.3 C648.3 379.3 649.6 379.4 651.0 379.5 C652.3 379.6 653.6 379.7 655.0 379.8 C656.3 379.9 657.6 380.0 659.0 380.0 C660.3 380.1 661.6 380.2 662.9 380.3 C664.3 380.4 665.6 380.5 666.9 380.5 C668.3 380.6 669.6 380.7 670.9 380.8 C672.3 380.9 673.6 380.9 674.9 381.0 C676.2 381.1 677.6 381.2 678.9 381.3 C680.2 381.3 681.6 381.4 682.9 381.5 C684.2 381.6 685.6 381.7 686.9 381.7 C688.2 381.8 689.6 381.9 690.9 382.0 C692.2 382.0 693.5 382.1 694.9 382.2 C696.2 382.3 697.5 382.3 698.9 382.4 C700.2 382.5 701.5 382.6 702.9 382.6 C704.2 382.7 705.5 382.8 706.9 382.9 C708.2 382.9 709.5 383.0 710.9 383.1 C712.2 383.1 713.5 383.2 714.9 383.3 C716.2 383.4 717.5 383.4 718.8 383.5 C720.2 383.6 721.5 383.6 722.8 383.7 C724.2 383.8 725.6 383.9 726.8 383.9 C728.1 384.0 729.6 384.1 730.2 384.1" fill="none" stroke="#0000ff" stroke-width="2.55" stroke-dasharray="3.9 3.13" stroke-dashoffset="0"/>
<path d="M89.0 96.1 H730.5" stroke="#7a7a7a" stroke-width="2.7" stroke-dasharray="8.4 2.9" stroke-dashoffset="9.9" fill="none"/>
<g stroke="#767676" fill="none">
<path d="M89.0 18.5 H730.5 V414.5 H89.0Z" stroke-width="1"/>
<path d="M89.0 414.5 v-6.0 M89.0 18.5 v6.0 M129.1 414.5 v-4.0 M129.1 18.5 v4.0 M169.2 414.5 v-4.0 M169.2 18.5 v4.0 M209.3 414.5 v-4.0 M209.3 18.5 v4.0 M249.4 414.5 v-6.0 M249.4 18.5 v6.0 M289.5 414.5 v-4.0 M289.5 18.5 v4.0 M329.6 414.5 v-4.0 M329.6 18.5 v4.0 M369.7 414.5 v-4.0 M369.7 18.5 v4.0 M409.8 414.5 v-6.0 M409.8 18.5 v6.0 M449.8 414.5 v-4.0 M449.8 18.5 v4.0 M489.9 414.5 v-4.0 M489.9 18.5 v4.0 M530.0 414.5 v-4.0 M530.0 18.5 v4.0 M570.1 414.5 v-6.0 M570.1 18.5 v6.0 M610.2 414.5 v-4.0 M610.2 18.5 v4.0 M650.3 414.5 v-4.0 M650.3 18.5 v4.0 M690.4 414.5 v-4.0 M690.4 18.5 v4.0 M730.5 414.5 v-6.0 M730.5 18.5 v6.0 M89.0 414.5 h6.0 M730.5 414.5 h-6.0 M89.0 398.7 h4.0 M730.5 398.7 h-4.0 M89.0 382.8 h4.0 M730.5 382.8 h-4.0 M89.0 367.0 h4.0 M730.5 367.0 h-4.0 M89.0 351.1 h4.0 M730.5 351.1 h-4.0 M89.0 335.3 h6.0 M730.5 335.3 h-6.0 M89.0 319.5 h4.0 M730.5 319.5 h-4.0 M89.0 303.6 h4.0 M730.5 303.6 h-4.0 M89.0 287.8 h4.0 M730.5 287.8 h-4.0 M89.0 271.9 h4.0 M730.5 271.9 h-4.0 M89.0 256.1 h6.0 M730.5 256.1 h-6.0 M89.0 240.3 h4.0 M730.5 240.3 h-4.0 M89.0 224.4 h4.0 M730.5 224.4 h-4.0 M89.0 208.6 h4.0 M730.5 208.6 h-4.0 M89.0 192.7 h4.0 M730.5 192.7 h-4.0 M89.0 176.9 h6.0 M730.5 176.9 h-6.0 M89.0 161.1 h4.0 M730.5 161.1 h-4.0 M89.0 145.2 h4.0 M730.5 145.2 h-4.0 M89.0 129.4 h4.0 M730.5 129.4 h-4.0 M89.0 113.5 h4.0 M730.5 113.5 h-4.0 M89.0 97.7 h6.0 M730.5 97.7 h-6.0 M89.0 81.9 h4.0 M730.5 81.9 h-4.0 M89.0 66.0 h4.0 M730.5 66.0 h-4.0 M89.0 50.2 h4.0 M730.5 50.2 h-4.0 M89.0 34.3 h4.0 M730.5 34.3 h-4.0 M89.0 18.5 h6.0 M730.5 18.5 h-6.0" stroke-width="1" stroke="#858585"/>
</g>
<g fill="#000" font-size="28.5">
<text x="84.5" y="423.2" text-anchor="end">0.0</text>
<text x="84.5" y="344.0" text-anchor="end">0.5</text>
<text x="84.5" y="264.8" text-anchor="end">1.0</text>
<text x="84.5" y="185.6" text-anchor="end">1.5</text>
<text x="84.5" y="106.4" text-anchor="end">2.0</text>
<text x="84.5" y="27.2" text-anchor="end">2.5</text>
<text x="89.4" y="445.8" text-anchor="middle">8</text>
<text x="249.8" y="445.8" text-anchor="middle">10</text>
<text x="410.1" y="445.8" text-anchor="middle">12</text>
<text x="570.5" y="445.8" text-anchor="middle">14</text>
<text x="730.9" y="445.8" text-anchor="middle">16</text>
<text x="410" y="490.4" text-anchor="middle">R [km]</text>
<g transform="translate(27.1 0) rotate(-90)" font-size="29.2"><text x="-253.8" textLength="23.9" lengthAdjust="spacingAndGlyphs">M</text><text x="-229.5" font-size="28.5" textLength="7.7" lengthAdjust="spacingAndGlyphs">/</text><text x="-219.8" font-style="italic" textLength="24.9" lengthAdjust="spacingAndGlyphs">M</text></g>
</g>
<circle cx="32.2" cy="189.3" r="5.7" fill="none" stroke="#000" stroke-width="1.25"/><circle cx="32.2" cy="189.3" r="1.4" fill="#000"/>
<text x="120.3" y="88" font-size="22.6" fill="#000">PSR J0348+0432</text>
<path d="M540.6 144.7 H596.1" stroke="#a20000" stroke-width="2.4" fill="none" stroke-dasharray="3.9 3.2 8.1 3.2"/>
<text x="611" y="155.9" font-size="28.5" fill="#000">b=10.45</text>
<path d="M540.6 192.8 H596.1" stroke="#a400a4" stroke-width="2.4" fill="none" stroke-dasharray="8.1 3.25"/>
<text x="611" y="203.9" font-size="28.5" fill="#000">b=10.50</text>
<path d="M540.6 240.8 H596.1" stroke="#ff8000" stroke-width="2.4" fill="none"/>
<text x="611" y="252.0" font-size="28.5" fill="#000">b=10.55</text>
<path d="M540.6 288.8 H596.1" stroke="#00ff00" stroke-width="2.4" fill="none" stroke-dasharray="8.1 3.25"/>
<text x="611" y="300.0" font-size="28.5" fill="#000">b=10.60</text>
<path d="M540.6 336.9 H596.1" stroke="#0000ff" stroke-width="2.4" fill="none" stroke-dasharray="3.9 3.13"/>
<text x="611" y="348.1" font-size="28.5" fill="#000">b=10.65</text>
</svg></body></html>
